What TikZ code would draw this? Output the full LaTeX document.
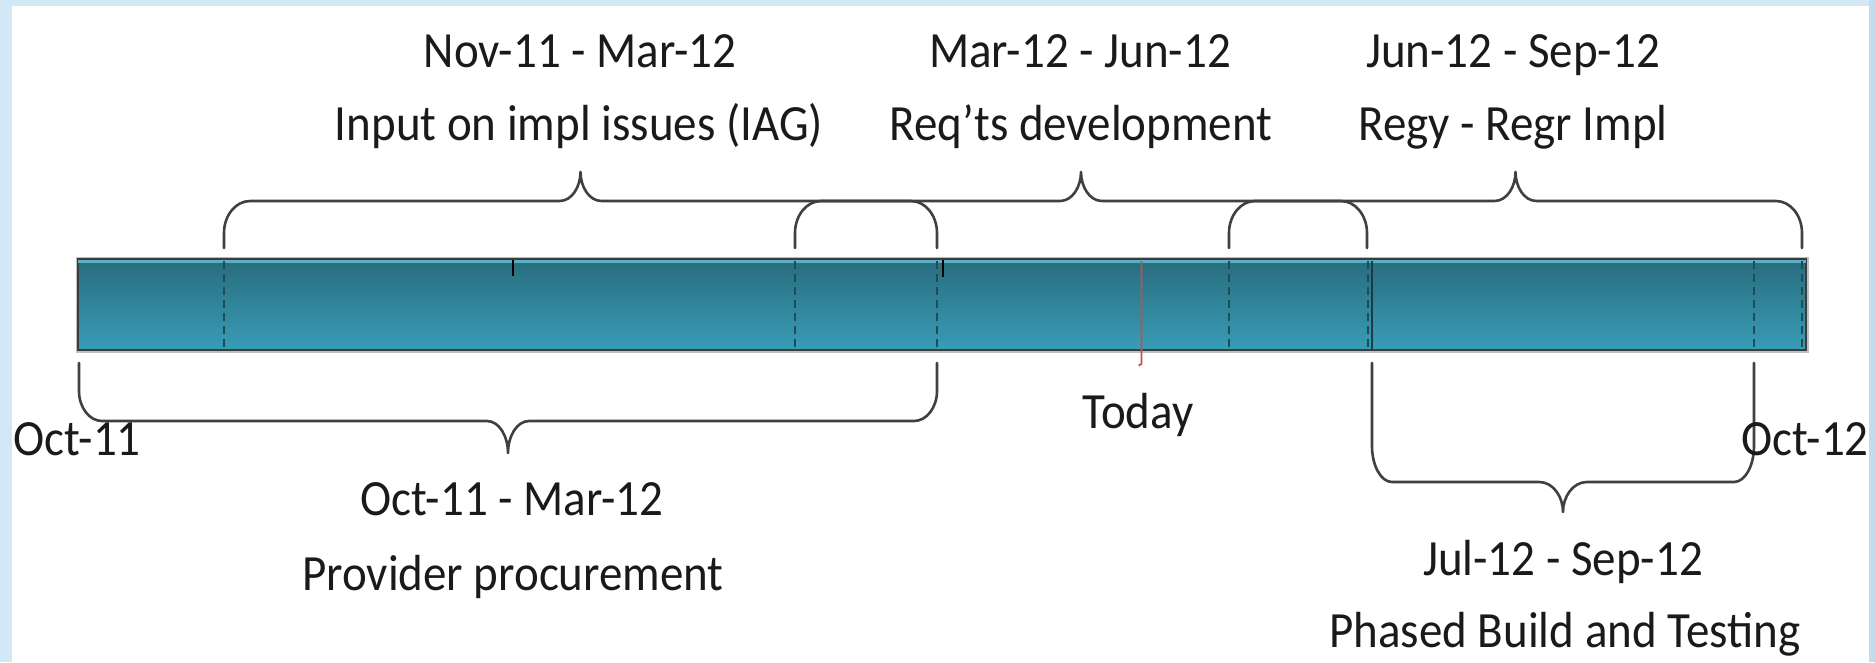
\documentclass[tikz,border=0pt]{standalone}
\usepackage{fontspec}
\setmainfont{Carlito}
\usepackage{graphicx}

\definecolor{framecol}{HTML}{D2E8F7}
\definecolor{framecolR}{HTML}{C3DCEC}
\definecolor{barTop}{HTML}{296C7D}
\definecolor{barBot}{HTML}{389DB7}
\definecolor{barHi}{HTML}{5AB0C3}
\definecolor{barEdge}{HTML}{3C3C3C}
\definecolor{divcol}{HTML}{1E4C58}
\definecolor{todaycol}{HTML}{C0504D}
\definecolor{inkcol}{HTML}{1A1A1A}
\definecolor{bracecol}{HTML}{404040}

% slightly tall set text
\newcommand{\tall}[1]{\scalebox{1}[1.08]{#1}}

% curly brace: x1, x2, y of free ends, y of long stroke, y of tip,
% corner x radius, corner y radius (signed, toward the ends), tip half width
\newcommand{\timebrace}[8]{%
  \pgfmathsetmacro{\bmid}{(#1+#2)/2}%
  \draw[bracestroke] (#1,#3) -- (#1,{#4+#7})
    .. controls (#1,{#4+0.45*#7}) and ({#1+0.45*#6},#4) .. ({#1+#6},#4)
    -- ({\bmid-#8},#4)
    .. controls ({\bmid-0.4*#8},#4) and (\bmid,{#4+0.5*(#5-#4)}) .. (\bmid,#5)
    .. controls (\bmid,{#4+0.5*(#5-#4)}) and ({\bmid+0.4*#8},#4) .. ({\bmid+#8},#4)
    -- ({#2-#6},#4)
    .. controls ({#2-0.45*#6},#4) and (#2,{#4+0.45*#7}) .. (#2,{#4+#7})
    -- (#2,#3);%
}

\begin{document}
\begin{tikzpicture}[x=1pt,y=-1pt,
  lbl/.style={anchor=base, inner sep=0pt, text=inkcol,
    font=\fontsize{47}{56}\selectfont},
  bracestroke/.style={draw=bracecol, line width=2.6pt, line join=round, line cap=round},
  divider/.style={draw=divcol, line width=1.6pt, dash pattern=on 8pt off 5pt},
  tick/.style={draw=black, line width=1.6pt},
  timebar/.style={draw=barEdge, line width=2.2pt, top color=barTop, bottom color=barBot,
    inner sep=0pt, minimum width=1728pt, minimum height=91pt},
  todayline/.style={draw=todaycol, line width=1.6pt}
]
\useasboundingbox (0,0) rectangle (1875,662);

% page frame
\fill[framecol] (0,0) rectangle (1875,662);
\fill[framecolR] (1869,0) rectangle (1875,662);
\fill[white] (12,6) rectangle (1869,662);

% time bar
\draw[black!25, line width=5pt] (78,259) rectangle (1806,350);
\node[timebar] (bar) at (942,304.5) {};
\draw[barHi, line width=2.4pt] ([yshift=-3.6pt,xshift=1.2pt]bar.north west) -- ([yshift=-3.6pt,xshift=-1.2pt]bar.north east);

% month dividers
\foreach \xd in {224,795,937,1229,1368,1754,1802}
  \draw[divider] (\xd,261) -- (\xd,349);
\draw[draw=divcol!80!black, line width=1.3pt] (1372,261) -- (1372,349);

% small ticks on the top edge
\draw[tick] (513,260) -- (513,276);
\draw[tick, line width=2.4pt] (943,260) -- (943,277);

% today marker
\draw[todayline] (1141.5,261) -- (1141.5,364) -- (1138.5,365.5);

% braces above the bar
\timebrace{224}{937}{248}{201}{172}{26}{32}{21}
\timebrace{795}{1367}{248}{201}{172}{26}{32}{21}
\timebrace{1229}{1802}{248}{201}{172}{26}{32}{21}

% braces below the bar
\timebrace{79}{937}{363}{421}{453}{23}{-30}{21}
\timebrace{1372}{1754}{363}{482}{512}{20}{-36}{24}

% labels
\node[lbl] (nov) at (580,67) {\tall{Nov-11 - Mar-12}};
\node[lbl] (iag) at (579,140) {\tall{Input on impl issues (IAG)}};
\node[lbl] (mar) at (1080,67) {\tall{Mar-12 - Jun-12}};
\node[lbl] (req) at (1081,140) {\tall{Req’ts development}};
\node[lbl] (jun) at (1513,67) {\tall{Jun-12 - Sep-12}};
\node[lbl] (regy) at (1513,140) {\tall{Regy - Regr Impl}};
\node[lbl] (octstart) at (77,455) {\tall{Oct-11}};
\node[lbl] (today) at (1138,428) {\tall{Today}};
\node[lbl] (octend) at (1805,455) {\tall{Oct-12}};
\node[lbl] (octmar) at (512,515) {\tall{Oct-11 - Mar-12}};
\node[lbl] (prov) at (513,590) {\tall{Provider procurement}};
\node[lbl] (jul) at (1563,575) {\tall{Jul-12 - Sep-12}};
\node[lbl] (phased) at (1565,647) {\tall{Phased Build and Testing}};
\end{tikzpicture}
\end{document}
